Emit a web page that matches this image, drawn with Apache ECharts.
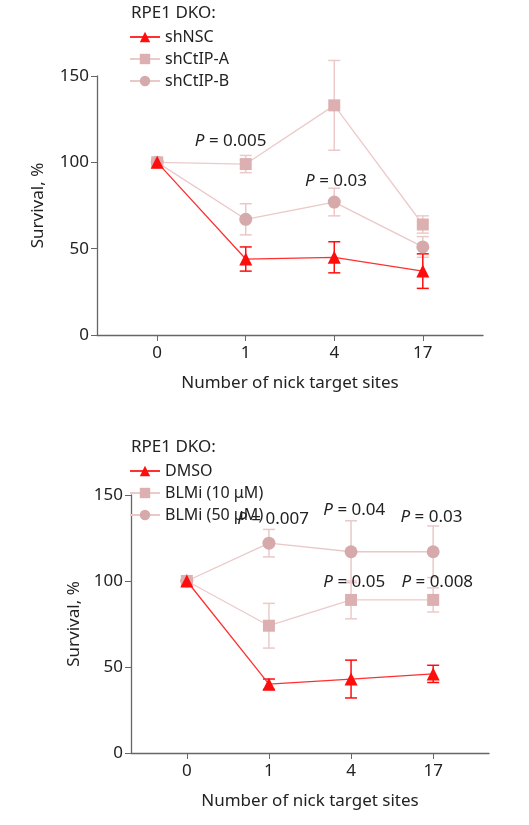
<!DOCTYPE html>
<html><head><meta charset="utf-8">
<script src="https://cdn.jsdelivr.net/npm/echarts@6/dist/echarts.min.js"></script>
<style>html,body{margin:0;padding:0;background:#fff}#c{width:529px;height:825px}</style>
</head><body><div id="c"></div>
<script>
const categories = ['0','1','4','17'];
// top panel
const topNames = ['shNSC','shCtIP-A','shCtIP-B'];
const topMean = [[100,44,45,37],[100,99,133,64],[100,67,77,51]];
const topErr  = [[0,7,9,10],[0,5,26,5],[0,9,8,6]];
const topP = [[0.83,112,'0.005'],[2.02,89,'0.03']];
// bottom panel
const botNames = ['DMSO','BLMi (10 μM)','BLMi (50 μM)'];
const botMean = [[100,40,43,46],[100,74,89,89],[100,122,117,117]];
const botErr  = [[0,3,11,5],[0,13,11,7],[0,8,18,15]];
const botP = [[1.05,136,'0.007'],[2.04,141,'0.04'],[2.98,137,'0.03'],[2.04,99.5,'0.05'],[3.05,99.5,'0.008']];

const F = '"Noto Sans", Lato, sans-serif';
const markCol = ['#ff0d0d','#dcb0b0','#d6aaaa'];
const lineCol = ['#ff3030','#eccaca','#ebc8c8'];
const symbols = ['triangle','rect','circle'];
const sizes = [13,12,13];

const series = [];
function panel(gi, names, mean, err, ps){
  names.forEach((n,k)=>{
    series.push({type:'line',name:n,xAxisIndex:gi,yAxisIndex:gi,data:mean[k].map((v,i)=>[i,v]),
      symbol:symbols[k],symbolSize:sizes[k],z:10-k,
      itemStyle:{color:markCol[k]},lineStyle:{color:lineCol[k],width:1.3}});
    series.push({type:'custom',xAxisIndex:gi,yAxisIndex:gi,z:5-k,silent:true,
      data:mean[k].map((v,i)=>[i,v-err[k][i],v+err[k][i]]),
      renderItem:(p,api)=>{
        const a=api.coord([api.value(0),api.value(1)]), b=api.coord([api.value(0),api.value(2)]);
        const st={stroke:k===0?markCol[0]:lineCol[k],lineWidth:1.5};
        return {type:'group',children:[
          {type:'line',shape:{x1:a[0],y1:a[1],x2:b[0],y2:b[1]},style:st},
          {type:'line',shape:{x1:a[0]-6,y1:a[1],x2:a[0]+6,y2:a[1]},style:st},
          {type:'line',shape:{x1:b[0]-6,y1:b[1],x2:b[0]+6,y2:b[1]},style:st}]};
      }});
  });
  series.push({type:'custom',xAxisIndex:gi,yAxisIndex:gi,silent:true,z:20,data:ps,
    renderItem:(p,api)=>{
      const c=api.coord([api.value(0),api.value(1)]);
      return {type:'text',x:c[0],y:c[1],style:{text:'{i|P} {n|= '+ps[p.dataIndex][2]+'}',
        rich:{i:{fontStyle:'italic',fontSize:17,fontFamily:F,fill:'#222'},n:{fontSize:17,fontFamily:F,fill:'#222'}},
        fontSize:17,fontFamily:F,fill:'#222',align:'center',verticalAlign:'middle'}};
    }});
}
panel(0, topNames, topMean, topErr, topP);
panel(1, botNames, botMean, botErr, botP);

const axX = (gi)=>({type:'value',gridIndex:gi,min:-0.68,max:3.68,
  name:'Number of nick target sites',nameLocation:'middle',nameGap:40,
  nameTextStyle:{fontSize:17,fontFamily:F,color:'#222'},
  axisLine:{onZero:false,lineStyle:{color:'#666',width:1.3}},splitLine:{show:false},
  axisTick:{customValues:[0,1,2,3],length:6,lineStyle:{color:'#666'}},
  axisLabel:{customValues:[0,1,2,3],formatter:v=>categories[Math.round(v)],fontSize:17,fontFamily:F,color:'#222',margin:10}});
const axY = (gi,gap)=>({type:'value',gridIndex:gi,min:0,max:150,interval:50,
  name:'Survival, %',nameLocation:'middle',nameGap:gap,
  nameTextStyle:{fontSize:17,fontFamily:F,color:'#222'},
  axisLine:{show:true,onZero:false,lineStyle:{color:'#666',width:1.3}},splitLine:{show:false},
  axisTick:{show:true,length:6,lineStyle:{color:'#666'}},
  axisLabel:{fontSize:17,fontFamily:F,color:'#222'}});

const chart = echarts.init(document.getElementById('c'));
chart.setOption({
  animation:false,
  title:[{text:'RPE1 DKO:',left:126,top:0,textStyle:{fontSize:17,fontWeight:'normal',fontFamily:F,color:'#222'}},
         {text:'RPE1 DKO:',left:126,top:434,textStyle:{fontSize:17,fontWeight:'normal',fontFamily:F,color:'#222'}}],
  legend:[{data:topNames,orient:'vertical',left:124,top:24,itemGap:6,itemWidth:30,itemHeight:13,
            textStyle:{fontSize:16,fontFamily:F,color:'#222'}},
          {data:botNames,orient:'vertical',left:124,top:458,itemGap:6,itemWidth:30,itemHeight:13,
            textStyle:{fontSize:16,fontFamily:F,color:'#222'}}],
  grid:[{left:97,width:386,top:76,height:259},{left:131,width:358,top:495,height:258}],
  xAxis:[axX(0),axX(1)],
  yAxis:[axY(0,50),axY(1,48)],
  series
});
</script></body></html>
